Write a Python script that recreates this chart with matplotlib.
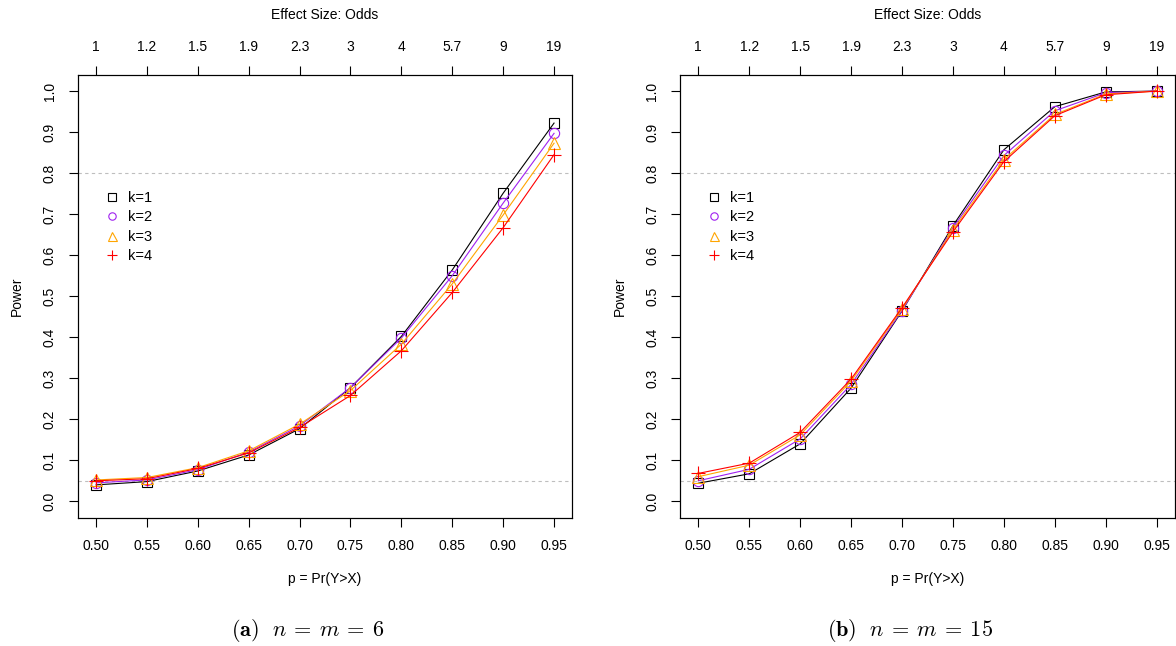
#!/usr/bin/env python
# -*- coding: utf-8 -*-

import numpy as np
import matplotlib
matplotlib.use("Agg")
import matplotlib.pyplot as plt

matplotlib.rcParams['xtick.direction'] = 'out'
matplotlib.rcParams['ytick.direction'] = 'out'
matplotlib.rcParams['font.family'] = 'Liberation Sans'
matplotlib.rcParams['font.size'] = 10
matplotlib.rcParams['mathtext.fontset'] = 'cm'
matplotlib.rcParams['axes.linewidth'] = 0.8

# x positions: p = Pr(Y>X), top axis shows odds p/(1-p)
p_vals = [0.50, 0.55, 0.60, 0.65, 0.70, 0.75, 0.80, 0.85, 0.90, 0.95]
p_labels = ["0.50", "0.55", "0.60", "0.65", "0.70", "0.75", "0.80", "0.85", "0.90", "0.95"]
odds_labels = ["1", "1.2", "1.5", "1.9", "2.3", "3", "4", "5.7", "9", "19"]
y_ticks = [0.0, 0.1, 0.2, 0.3, 0.4, 0.5, 0.6, 0.7, 0.8, 0.9, 1.0]

k_labels = ["k=1", "k=2", "k=3", "k=4"]
k_colors = ["black", "#A020F0", "#FFA500", "#FF0000"]
k_markers = ["s", "o", "^", "+"]
k_msize = [7.2, 7.4, 9.0, 10.5]

# power, n = m = 6
power_n6_k1 = [0.040, 0.048, 0.074, 0.113, 0.177, 0.277, 0.402, 0.564, 0.751, 0.922]
power_n6_k2 = [0.045, 0.052, 0.077, 0.120, 0.184, 0.277, 0.398, 0.550, 0.727, 0.897]
power_n6_k3 = [0.052, 0.058, 0.082, 0.123, 0.188, 0.270, 0.383, 0.530, 0.698, 0.873]
power_n6_k4 = [0.050, 0.055, 0.080, 0.118, 0.180, 0.258, 0.367, 0.509, 0.667, 0.845]

# power, n = m = 15
power_n15_k1 = [0.044, 0.067, 0.140, 0.276, 0.464, 0.672, 0.857, 0.962, 0.998, 1.000]
power_n15_k2 = [0.050, 0.078, 0.152, 0.285, 0.465, 0.667, 0.843, 0.952, 0.996, 1.000]
power_n15_k3 = [0.060, 0.088, 0.162, 0.293, 0.469, 0.662, 0.833, 0.943, 0.993, 1.000]
power_n15_k4 = [0.068, 0.093, 0.168, 0.298, 0.472, 0.657, 0.828, 0.940, 0.991, 1.000]

ref_lines = [0.05, 0.8]


def draw_panel(ax, series):
    for i, y in enumerate(series):
        ax.plot(p_vals, y, color=k_colors[i], marker=k_markers[i],
                markersize=k_msize[i], markerfacecolor="none",
                markeredgecolor=k_colors[i], markeredgewidth=0.8,
                linewidth=0.8, label=k_labels[i])
    for h in ref_lines:
        ax.axhline(h, color="#BEBEBE", linestyle=(0, (3, 3)), linewidth=0.8,
                   zorder=0)

    ax.set_xlim(0.482, 0.968)
    ax.set_ylim(-0.04, 1.04)
    ax.set_xticks(p_vals)
    ax.set_xticklabels(p_labels)
    ax.set_yticks(y_ticks)
    ax.set_yticklabels(["%.1f" % v for v in y_ticks], rotation=90, va="center")
    ax.tick_params(length=6.5, width=0.8, pad=8.5, labelsize=10)
    ax.set_xlabel("p = Pr(Y>X)", fontsize=10)
    ax.xaxis.set_label_coords(0.5, -0.122)
    ax.set_ylabel("Power", fontsize=10)
    ax.yaxis.set_label_coords(-0.108, 0.5)

    top = ax.twiny()
    top.set_xlim(ax.get_xlim())
    top.set_xticks(p_vals)
    top.set_xticklabels(odds_labels)
    top.tick_params(length=6.5, width=0.8, pad=8.5, labelsize=10)
    top.set_xlabel("Effect Size: Odds", fontsize=10)
    top.xaxis.set_label_coords(0.5, 1.126)

    leg = ax.legend(loc="center left", bbox_to_anchor=(0.0546, 0.656),
                    frameon=False, handlelength=1.0, handletextpad=0.6,
                    labelspacing=0.38, borderpad=0.0, borderaxespad=0.0,
                    markerscale=0.72, fontsize=10.5)
    for line in leg.get_lines():
        line.set_linestyle("none")


def main():
    fig = plt.figure(figsize=(11.76, 6.46), dpi=100)
    ax1 = fig.add_axes([0.0661, 0.1986, 0.4206, 0.6858])
    ax2 = fig.add_axes([0.5782, 0.1986, 0.4210, 0.6858])

    draw_panel(ax1, [power_n6_k1, power_n6_k2, power_n6_k3, power_n6_k4])
    draw_panel(ax2, [power_n15_k1, power_n15_k2, power_n15_k3, power_n15_k4])

    fig.text(308 / 1176., 1 - 630 / 646., r"$\mathbf{(a)}\ \ n\:=\:m\:=\:6$",
             ha="center", va="center", fontsize=16)
    fig.text(910 / 1176., 1 - 630 / 646., r"$\mathbf{(b)}\ \ n\:=\:m\:=\:15$",
             ha="center", va="center", fontsize=16)

    fig.savefig("out.png", dpi=100)
    plt.close()


if __name__ == "__main__":
    main()
